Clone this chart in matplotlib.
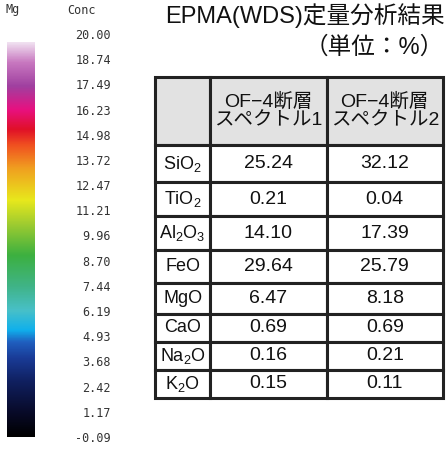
import numpy as np
import matplotlib
matplotlib.use("Agg")
import matplotlib.pyplot as plt
from matplotlib.colors import LinearSegmentedColormap

plt.rcParams['font.family'] = ['Liberation Sans', 'Noto Sans CJK JP']
plt.rcParams['mathtext.default'] = 'regular'

# colour scale (Mg map)
conc_ticks = [20.00, 18.74, 17.49, 16.23, 14.98, 13.72, 12.47, 11.21, 9.96,
              8.70, 7.44, 6.19, 4.93, 3.68, 2.42, 1.17, -0.09]
scale_colors = ["#000000", "#080a28", "#102060", "#1a3c98", "#2060c0", "#10b0ec",
                "#48c0c8", "#40b488", "#3cb040", "#a0cc30", "#e8e81c", "#f0a020",
                "#f05020", "#e01028", "#e81080", "#a040a0", "#c878c0", "#f0e0f0"]
scale_pos = [0.0, 0.06, 0.14, 0.2, 0.24, 0.27, 0.32, 0.38, 0.46, 0.54, 0.6,
             0.68, 0.74, 0.78, 0.83, 0.89, 0.95, 1.0]

# table
title = "EPMA(WDS)定量分析結果"
unit = "（単位：%）"
col_labels = ["", "OF−4断層\nスペクトル1", "OF−4断層\nスペクトル2"]
oxides = ["SiO$_2$", "TiO$_2$", "Al$_2$O$_3$", "FeO", "MgO", "CaO", "Na$_2$O", "K$_2$O"]
spec1 = ["25.24", "0.21", "14.10", "29.64", "6.47", "0.69", "0.16", "0.15"]
spec2 = ["32.12", "0.04", "17.39", "25.79", "8.18", "0.69", "0.21", "0.11"]

W, H = 446, 449
fig = plt.figure(figsize=(W / 100, H / 100), dpi=100)

def box(x0, y0, x1, y1):
    return [x0 / W, 1 - y1 / H, (x1 - x0) / W, (y1 - y0) / H]

# colour bar
cmap = LinearSegmentedColormap.from_list("mg", list(zip(scale_pos, scale_colors)))
ax_bar = fig.add_axes(box(7, 42, 35, 437))
grad = np.linspace(1, 0, 256).reshape(-1, 1)
ax_bar.imshow(grad, aspect="auto", cmap=cmap)
ax_bar.set_axis_off()

ax_lab = fig.add_axes(box(111, 34, 112, 437))
ax_lab.set_ylim(min(conc_ticks), max(conc_ticks))
ax_lab.set_yticks(conc_ticks)
ax_lab.set_yticklabels([f"{v:.2f}" for v in conc_ticks], family="DejaVu Sans Mono",
                       fontsize=8.5, color="#333333")
ax_lab.tick_params(axis="y", length=0, pad=0)
ax_lab.set_xticks([])
for s in ax_lab.spines.values():
    s.set_visible(False)

fig.text(13 / W, 1 - 10 / H, "Mg", family="DejaVu Sans Mono", fontsize=8.5,
         color="#333333", ha="center", va="center")
fig.text(82 / W, 1 - 10 / H, "Conc", family="DejaVu Sans Mono", fontsize=8.5,
         color="#333333", ha="center", va="center")

# titles
fig.text(445 / W, 1 - 16 / H, title, fontsize=17, ha="right", va="center", color="#111111")
fig.text(444 / W, 1 - 47 / H, unit, fontsize=17, ha="right", va="center", color="#111111")

# table
ax_t = fig.add_axes(box(155, 77, 443, 398))
ax_t.set_axis_off()
cells = [[o, a, b] for o, a, b in zip(oxides, spec1, spec2)]
tbl = ax_t.table(cellText=cells, colLabels=col_labels, cellLoc="center",
                 bbox=[0, 0, 1, 1], colWidths=[55, 116, 116])
tbl.auto_set_font_size(False)
row_h = [68, 37, 34, 34, 33, 31, 28, 28, 28]
for (r, c), cell in tbl.get_celld().items():
    cell.set_height(row_h[r])
    cell.set_linewidth(2.2)
    cell.set_edgecolor("#222222")
    cell.get_text().set_color("#111111")
    if r == 0:
        cell.set_facecolor("#e2e2e2")
        cell.get_text().set_fontsize(14)
        cell.get_text().set_linespacing(1.05)
    else:
        cell.get_text().set_fontsize(13 if c == 0 else 14)

fig.savefig("out.png", dpi=100, facecolor="white")
